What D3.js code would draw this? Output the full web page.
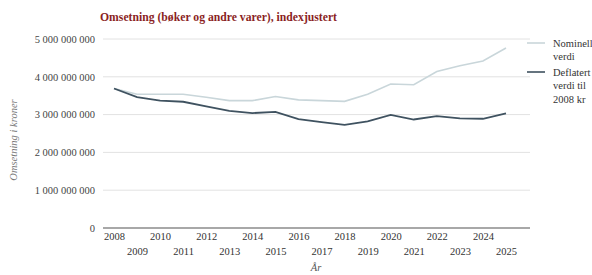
<!DOCTYPE html>
<html>
<head>
<meta charset="utf-8">
<script src="https://cdn.jsdelivr.net/npm/d3@7"></script>
<style>
  body { margin: 0; background: #fff; }
  svg text { font-family: "Liberation Serif", "DejaVu Serif", serif; }
</style>
</head>
<body>
<div id="chart"></div>
<script>
const years = [2008, 2009, 2010, 2011, 2012, 2013, 2014, 2015, 2016, 2017, 2018, 2019, 2020, 2021, 2022, 2023, 2024, 2025];
const nominell = [3.69, 3.54, 3.54, 3.54, 3.46, 3.37, 3.37, 3.48, 3.39, 3.37, 3.35, 3.54, 3.81, 3.79, 4.14, 4.29, 4.42, 4.76].map(v => v * 1e9);
const deflatert = [3.69, 3.46, 3.37, 3.34, 3.22, 3.10, 3.04, 3.07, 2.88, 2.80, 2.73, 2.82, 2.99, 2.87, 2.96, 2.90, 2.89, 3.03].map(v => v * 1e9);
const yTicks = [0, 1e9, 2e9, 3e9, 4e9, 5e9];

const w = 592, h = 275;
const serif = '"Liberation Serif", "DejaVu Serif", serif';
const svg = d3.select('#chart').append('svg').attr('width', w).attr('height', h);

const xScale = d3.scaleLinear().domain([2008, 2025]).range([114, 506]);
const yScale = d3.scaleLinear().domain([0, 5e9]).range([228, 39]);

const fmt = d => d3.format(',')(d).replace(/,/g, ' ');

// title
svg.append('text').attr('x', 100).attr('y', 21)
  .attr('font-size', '11.7px').attr('font-weight', 'bold').attr('fill', '#8b1f1f')
  .text('Omsetning (bøker og andre varer), indexjustert');

// grid
svg.append('g').selectAll('line').data(yTicks).enter().append('line')
  .attr('x1', 103).attr('x2', 530)
  .attr('y1', d => yScale(d)).attr('y2', d => yScale(d))
  .attr('stroke', d => d === 0 ? '#a8a8a8' : '#e2e2e2')
  .attr('stroke-width', d => d === 0 ? 2 : 1);

// y axis
const yAxis = d3.axisLeft(yScale).tickValues(yTicks).tickFormat(fmt).tickSize(0).tickPadding(0);
const yg = svg.append('g').attr('transform', 'translate(95,0)').call(yAxis);
yg.select('.domain').remove();
yg.selectAll('text').style('font-family', serif).style('font-size', '10.5px').attr('fill', '#444');

svg.append('text').attr('transform', 'translate(17,140) rotate(-90)')
  .attr('text-anchor', 'middle').attr('font-size', '10.5px').attr('font-style', 'italic')
  .attr('fill', '#777').text('Omsetning i kroner');

// x axis, staggered labels
const xAxis = d3.axisBottom(xScale).tickValues(years).tickFormat(d3.format('d')).tickSize(0).tickPadding(0);
const xg = svg.append('g').attr('transform', 'translate(0,233)').call(xAxis);
xg.select('.domain').remove();
xg.selectAll('text').style('font-family', serif).style('font-size', '10.5px').attr('fill', '#333')
  .attr('dy', (d) => d % 2 === 0 ? '0.71em' : '2.05em');

svg.append('text').attr('x', 316).attr('y', 271).attr('text-anchor', 'middle')
  .attr('font-size', '10.5px').attr('font-style', 'italic').attr('fill', '#555').text('År');

// lines
const line = d3.line().x((d, i) => xScale(years[i])).y(d => yScale(d));
svg.append('path').datum(nominell).attr('d', line)
  .attr('fill', 'none').attr('stroke', '#c9d6da').attr('stroke-width', 1.6);
svg.append('path').datum(deflatert).attr('d', line)
  .attr('fill', 'none').attr('stroke', '#3f5260').attr('stroke-width', 1.8);

// legend
const legend = [
  { color: '#c9d6da', y: 43, lines: ['Nominell', 'verdi'] },
  { color: '#3f5260', y: 72, lines: ['Deflatert', 'verdi til', '2008 kr'] }
];
legend.forEach(l => {
  svg.append('line').attr('x1', 527).attr('x2', 545).attr('y1', l.y).attr('y2', l.y)
    .attr('stroke', l.color).attr('stroke-width', 1.6);
  const t = svg.append('text').attr('x', 553).attr('y', l.y + 3.5)
    .attr('font-size', '10.5px').attr('fill', '#333');
  l.lines.forEach((s, i) => t.append('tspan').attr('x', 553).attr('dy', i === 0 ? 0 : 13.5).text(s));
});
</script>
</body>
</html>
